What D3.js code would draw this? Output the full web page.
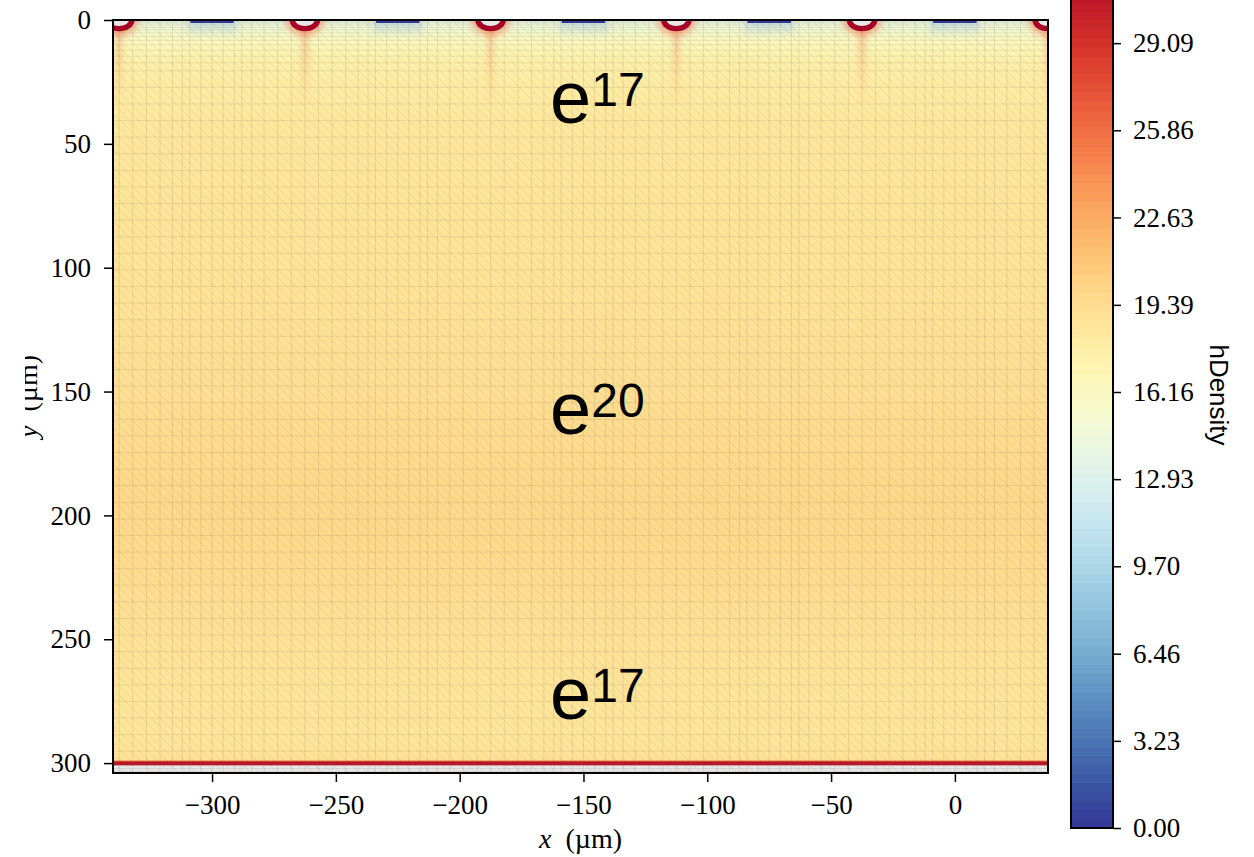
<!DOCTYPE html>
<html>
<head>
<meta charset="utf-8">
<script src="https://cdn.jsdelivr.net/npm/d3@7"></script>
<style>
  body { margin: 0; background: #fff; }
  svg { display: block; }
  .tick text { font-family: "Liberation Serif", "DejaVu Serif", serif; font-size: 27px; fill: #000; }
  .tick line { stroke: #000; stroke-width: 1.5px; }
</style>
</head>
<body>
<svg id="chart" width="1254" height="857"></svg>
<script>
// depth profile of hDensity
const depthUm  = [0, 1.5, 4, 7, 11, 16, 25, 40, 70, 110, 150, 175, 195, 215, 240, 270, 290, 297, 298.6, 299.1, 299.5, 300.9];
const hDensity = [13.6, 14.3, 15.1, 15.9, 16.7, 17.4, 18.0, 18.4, 18.7, 18.9, 19.2, 19.6, 19.8, 19.6, 19.1, 18.7, 18.7, 18.9, 19.2, 24.0, 31.0, 31.0];

// top contacts
const electrodeX = [-337.5, -262.5, -187.5, -112.5, -37.5, 37.5];
const contactX   = [-300, -225, -150, -75, 0];

const xTicks  = [-300, -250, -200, -150, -100, -50, 0];
const yTicks  = [0, 50, 100, 150, 200, 250, 300];
const cbTicks = [0.00, 3.23, 6.46, 9.70, 12.93, 16.16, 19.39, 22.63, 25.86, 29.09];
const cbMax = 32.32;

// doping annotations
const annotExp   = ["17", "20", "17"];
const annotDepth = [41.6, 167.1, 282.2];
const annotX = -163.5;

const svg = d3.select("#chart");
const defs = svg.append("defs");

const x = d3.scaleLinear().domain([-340, 37.6]).range([113, 1048]);
const y = d3.scaleLinear().domain([0, 304]).range([20, 773]);
const color = v => d3.interpolateRdYlBu(1 - v / cbMax);
const um = d => x(d) - x(0);
const oxideTop = depthUm[depthUm.length - 1];

defs.append("clipPath").attr("id", "plotClip")
  .append("rect").attr("x", x(-340)).attr("y", y(0))
  .attr("width", x(37.6) - x(-340)).attr("height", y(304) - y(0));

// vertical doping profile as gradient
const grad = defs.append("linearGradient").attr("id", "profile")
  .attr("gradientUnits", "userSpaceOnUse")
  .attr("x1", 0).attr("x2", 0)
  .attr("y1", y(0)).attr("y2", y(oxideTop));
grad.selectAll("stop").data(depthUm).enter().append("stop")
  .attr("offset", d => d / oxideTop)
  .attr("stop-color", (d, i) => color(hDensity[i]));

const streak = defs.append("linearGradient").attr("id", "streak")
  .attr("x1", 0).attr("x2", 0).attr("y1", 0).attr("y2", 1);
streak.append("stop").attr("offset", 0).attr("stop-color", "#f46d43").attr("stop-opacity", 0.35);
streak.append("stop").attr("offset", 1).attr("stop-color", "#f46d43").attr("stop-opacity", 0);

const blueGlow = defs.append("linearGradient").attr("id", "blueGlow")
  .attr("x1", 0).attr("x2", 0).attr("y1", 0).attr("y2", 1);
blueGlow.append("stop").attr("offset", 0).attr("stop-color", "#a9cfe4").attr("stop-opacity", 0.6);
blueGlow.append("stop").attr("offset", 1).attr("stop-color", "#a9cfe4").attr("stop-opacity", 0);

defs.append("filter").attr("id", "blur")
  .append("feGaussianBlur").attr("stdDeviation", 3);
defs.append("filter").attr("id", "blurS").attr("x", "-50%").attr("width", "200%")
  .append("feGaussianBlur").attr("stdDeviation", 2.5);

const hatch = defs.append("pattern").attr("id", "hatch")
  .attr("patternUnits", "userSpaceOnUse").attr("width", 9).attr("height", 9);
hatch.append("line").attr("x1", 0).attr("y1", 0).attr("x2", 9).attr("y2", 9)
  .attr("stroke", "#7d6d50").attr("stroke-opacity", 0.16).attr("stroke-width", 0.8);

const plot = svg.append("g").attr("clip-path", "url(#plotClip)");

// oxide strip below the silicon
plot.append("rect").attr("x", x(-340)).attr("y", y(oxideTop))
  .attr("width", x(37.6) - x(-340)).attr("height", y(304) - y(oxideTop))
  .attr("fill", "#e8e8e8");

plot.append("rect").attr("x", x(-340)).attr("y", y(0))
  .attr("width", x(37.6) - x(-340)).attr("height", y(oxideTop) - y(0))
  .attr("fill", "url(#profile)");

// blue glow under the flat contacts
plot.selectAll(".cglow").data(contactX).enter().append("rect")
  .attr("x", d => x(d - 10)).attr("y", y(0))
  .attr("width", um(20)).attr("height", y(7) - y(0))
  .attr("fill", "url(#blueGlow)").attr("filter", "url(#blurS)");

// orange streaks under the round contacts
plot.selectAll(".streak").data(electrodeX).enter().append("rect")
  .attr("x", d => x(d) - 4).attr("y", y(0))
  .attr("width", 8).attr("height", y(34) - y(0))
  .attr("fill", "url(#streak)").attr("filter", "url(#blurS)");

// mesh
const meshG = plot.append("g");
meshG.append("rect").attr("x", x(-340)).attr("y", y(0))
  .attr("width", x(37.6) - x(-340)).attr("height", y(304) - y(0))
  .attr("fill", "url(#hatch)");
const cellOffsets = [-37.5, -32, -26.5, -21, -16, -12, -9, -4.5, 0, 4.5, 9, 12, 16, 21, 26.5, 32];
const vLines = contactX.concat([75]).flatMap(c => cellOffsets.map(o => c + o));
meshG.selectAll(".vl").data(vLines).enter().append("line")
  .attr("x1", d => x(d)).attr("x2", d => x(d))
  .attr("y1", y(0)).attr("y2", y(304))
  .attr("stroke", "#6f6048").attr("stroke-opacity", 0.15).attr("stroke-width", 1);
const hLines = [0.6, 1.2, 2, 3, 4, 5.2, 6.6, 8.2, 10, 12.2, 14.6, 17.3]
  .concat(d3.range(20.5, 298, 6.7)).concat([299.5, 301, 302.2, 303.3]);
meshG.selectAll(".hl").data(hLines).enter().append("line")
  .attr("x1", x(-340)).attr("x2", x(37.6))
  .attr("y1", d => y(d)).attr("y2", d => y(d))
  .attr("stroke", "#6f6048").attr("stroke-opacity", 0.14).attr("stroke-width", 1);

// flat contacts
plot.selectAll(".contact").data(contactX).enter().append("rect")
  .attr("x", d => x(d - 8.75)).attr("y", y(0))
  .attr("width", um(17.5)).attr("height", y(1.2) - y(0))
  .attr("fill", "#313695");

// round contacts
const el = plot.selectAll(".el").data(electrodeX).enter().append("g");
el.append("ellipse").attr("cx", d => x(d)).attr("cy", y(0))
  .attr("rx", um(7.8)).attr("ry", y(6.2) - y(0))
  .attr("fill", "#f46d43").attr("opacity", 0.5).attr("filter", "url(#blur)");
el.append("ellipse").attr("cx", d => x(d)).attr("cy", y(0))
  .attr("rx", um(6.2)).attr("ry", y(4.5) - y(0))
  .attr("fill", "#a50026");
el.append("ellipse").attr("cx", d => x(d)).attr("cy", y(0))
  .attr("rx", um(4)).attr("ry", y(2.4) - y(0))
  .attr("fill", "#e9e6e6");

// frame
svg.append("rect").attr("x", x(-340)).attr("y", y(0))
  .attr("width", x(37.6) - x(-340)).attr("height", y(304) - y(0))
  .attr("fill", "none").attr("stroke", "#000").attr("stroke-width", 2);

// axes
const xAxis = svg.append("g").attr("transform", `translate(0,${y(304)})`)
  .call(d3.axisBottom(x).tickValues(xTicks).tickSize(9).tickPadding(13));
xAxis.select(".domain").remove();
const yAxis = svg.append("g").attr("transform", `translate(${x(-340)},0)`)
  .call(d3.axisLeft(y).tickValues(yTicks).tickSize(9).tickPadding(13));
yAxis.select(".domain").remove();

const xl = svg.append("text").attr("x", (x(-340) + x(37.6)) / 2).attr("y", 848)
  .attr("text-anchor", "middle")
  .attr("font-family", "Liberation Serif, DejaVu Serif, serif").attr("font-size", 28);
xl.append("tspan").attr("font-style", "italic").text("x");
xl.append("tspan").text("\u00a0\u00a0(µm)");

defs.append("clipPath").attr("id", "ylClip")
  .append("rect").attr("x", 25).attr("y", 0).attr("width", 60).attr("height", 857);
const yl = svg.append("g").attr("clip-path", "url(#ylClip)")
  .append("text")
  .attr("transform", `translate(37,${(y(0) + y(304)) / 2}) rotate(-90)`)
  .attr("text-anchor", "middle")
  .attr("font-family", "Liberation Serif, DejaVu Serif, serif").attr("font-size", 28);
yl.append("tspan").attr("font-style", "italic").text("y");
yl.append("tspan").text("\u00a0\u00a0(µm)");

// annotations
annotExp.forEach((e, i) => {
  const t = svg.append("text").attr("x", x(annotX)).attr("y", y(annotDepth[i]))
    .attr("font-family", "Liberation Sans, Arial, sans-serif").attr("fill", "#000");
  t.append("tspan").attr("font-size", 74).text("e");
  t.append("tspan").attr("font-size", 48).attr("dy", -17).text(e);
});

// colorbar
const cb = d3.scaleLinear().domain([0, cbMax]).range([828, 828 - cbMax * 26.98]);
const cbX = 1071, cbW = 42;
const nLev = 96;
const levels = d3.range(nLev).map(i => i * cbMax / nLev);
svg.append("g").selectAll("rect").data(levels).enter().append("rect")
  .attr("x", cbX).attr("width", cbW)
  .attr("y", d => cb(d + cbMax / nLev))
  .attr("height", d => cb(d) - cb(d + cbMax / nLev) + 0.6)
  .attr("fill", d => color(d + cbMax / nLev / 2));
svg.append("rect").attr("x", cbX).attr("y", cb(cbMax)).attr("width", cbW)
  .attr("height", cb(0) - cb(cbMax))
  .attr("fill", "none").attr("stroke", "#000").attr("stroke-width", 2);
const cbAxis = svg.append("g").attr("transform", `translate(${cbX + cbW},0)`)
  .call(d3.axisRight(cb).tickValues(cbTicks).tickFormat(d3.format(".2f")).tickSize(8).tickPadding(12));
cbAxis.select(".domain").remove();

svg.append("text").attr("transform", "translate(1210,395) rotate(90)")
  .attr("text-anchor", "middle")
  .attr("font-family", "Liberation Sans, Arial, sans-serif").attr("font-size", 26)
  .text("hDensity");
</script>
</body>
</html>
